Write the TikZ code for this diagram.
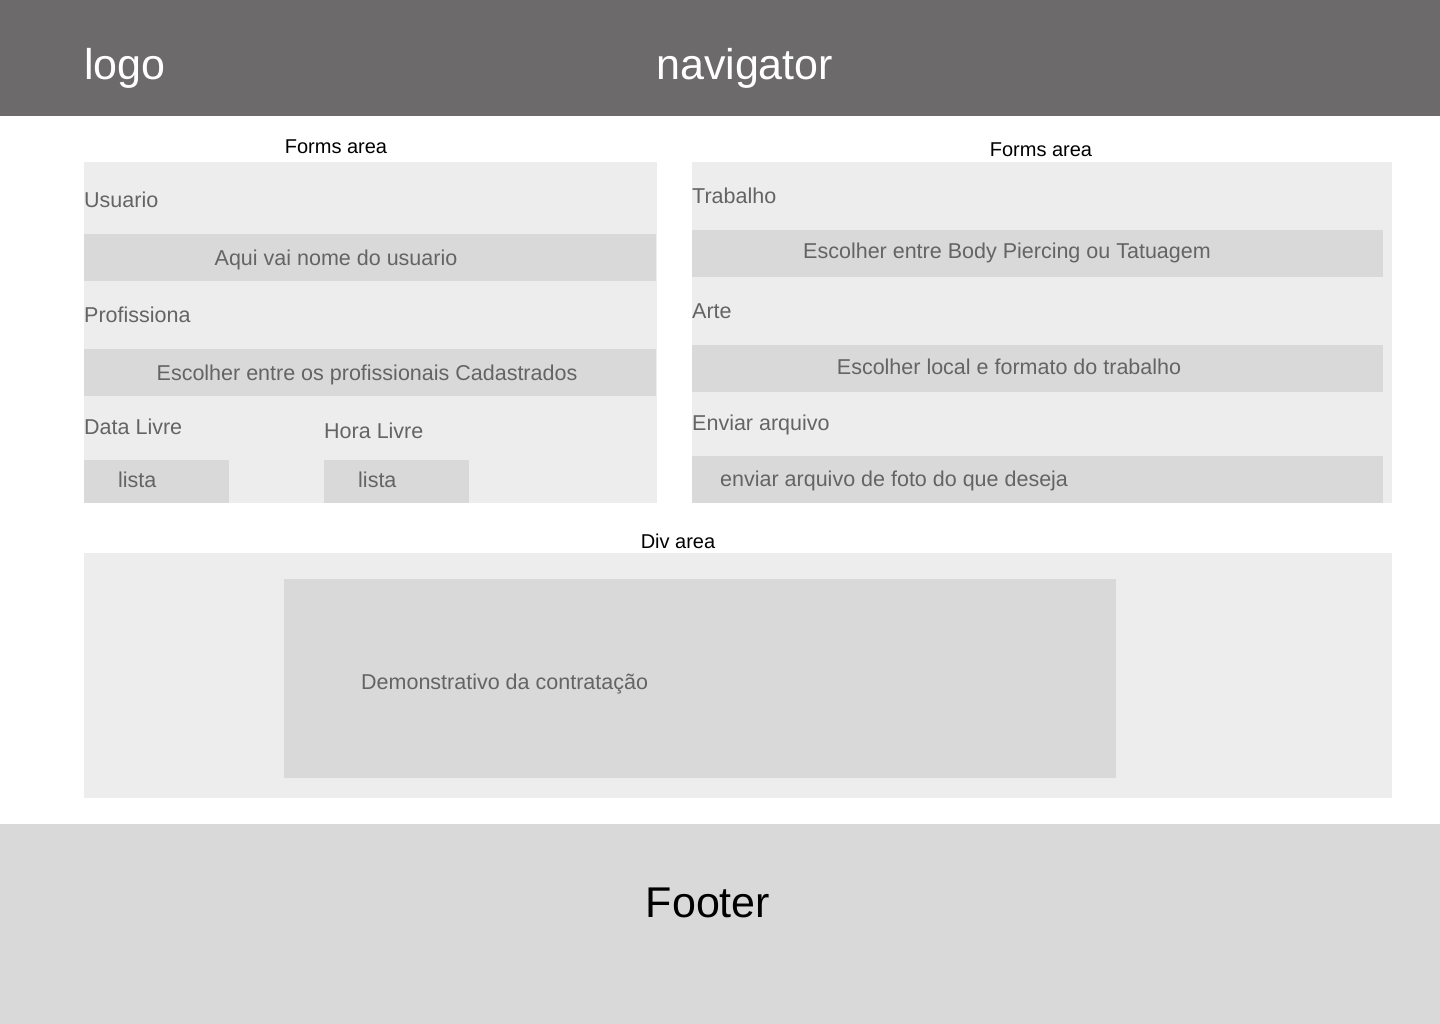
\documentclass[tikz,border=0pt]{standalone}
\usepackage{fontspec}
\setmainfont{Liberation Sans}
\definecolor{headgray}{HTML}{6C6A6A}
\definecolor{panelgray}{HTML}{EDEDED}
\definecolor{fieldgray}{HTML}{D9D9D9}
\definecolor{textgray}{HTML}{646464}
\tikzset{
    lbltxt/.style={anchor=base west, inner sep=0pt, text=textgray, font=\fontsize{21.5}{25}\selectfont},
    fieldtxt/.style={anchor=base, inner sep=0pt, text=textgray, font=\fontsize{21.5}{25}\selectfont},
    areatxt/.style={anchor=base, inner sep=0pt, text=black, font=\fontsize{20}{24}\selectfont},
    bigtxt/.style={anchor=base, inner sep=0pt, font=\fontsize{43}{48}\selectfont}
}
\begin{document}
\begin{tikzpicture}[x=1pt, y=-1pt]
    \useasboundingbox (0,0) rectangle (1440,1024);
    \fill[white] (0,0) rectangle (1440,1024);

    % --- Header ---
    \fill[headgray] (0,0) rectangle (1440,116);
    \node[bigtxt, anchor=base west, text=white] (logo) at (84,80) {logo};
    \node[bigtxt, anchor=base west, text=white] (nav) at (656,80) {navigator};

    % --- Left forms area ---
    \node[areatxt] (formsL) at (336,154) {Forms area};
    \fill[panelgray] (84,162) rectangle (657,503);
    \fill[fieldgray] (84,234) rectangle (656,281);
    \fill[fieldgray] (84,349) rectangle (656,396);
    \fill[fieldgray] (84,460) rectangle (229,503);
    \fill[fieldgray] (324,460) rectangle (469,503);
    \node[lbltxt] (usuario) at (84,208) {Usuario};
    \node[fieldtxt] (nome) at (336,266) {Aqui vai nome do usuario};
    \node[lbltxt] (prof) at (84,323) {Profissiona};
    \node[fieldtxt] (cadastro) at (367,380) {Escolher entre os profissionais Cadastrados};
    \node[lbltxt] (data) at (84,434) {Data Livre};
    \node[lbltxt] (hora) at (324,438) {Hora Livre};
    \node[lbltxt] (listaA) at (118,487) {lista};
    \node[lbltxt] (listaB) at (358,487) {lista};

    % --- Right forms area ---
    \node[areatxt] (formsR) at (1041,157) {Forms area};
    \fill[panelgray] (692,162) rectangle (1392,503);
    \fill[fieldgray] (692,230) rectangle (1383,277);
    \fill[fieldgray] (692,345) rectangle (1383,392);
    \fill[fieldgray] (692,456) rectangle (1383,503);
    \node[lbltxt] (trab) at (692,204) {Trabalho};
    \node[fieldtxt] (tipo) at (1007,259) {Escolher entre Body Piercing ou Tatuagem};
    \node[lbltxt] (arte) at (692,319) {Arte};
    \node[fieldtxt] (local) at (1009,374) {Escolher local e formato do trabalho};
    \node[lbltxt] (enviar) at (692,430) {Enviar arquivo};
    \node[lbltxt] (foto) at (720,486) {enviar arquivo de foto do que deseja};

    % --- Div area ---
    \node[areatxt] (divlbl) at (678,548) {Div area};
    \fill[panelgray] (84,553) rectangle (1392,798);
    \fill[fieldgray] (284,579) rectangle (1116,778);
    \node[lbltxt] (demo) at (361,689) {Demonstrativo da contratação};

    % --- Footer ---
    \fill[fieldgray] (0,824) rectangle (1440,1024);
    \node[bigtxt, text=black] (footer) at (708,917) {Footer};
\end{tikzpicture}
\end{document}
